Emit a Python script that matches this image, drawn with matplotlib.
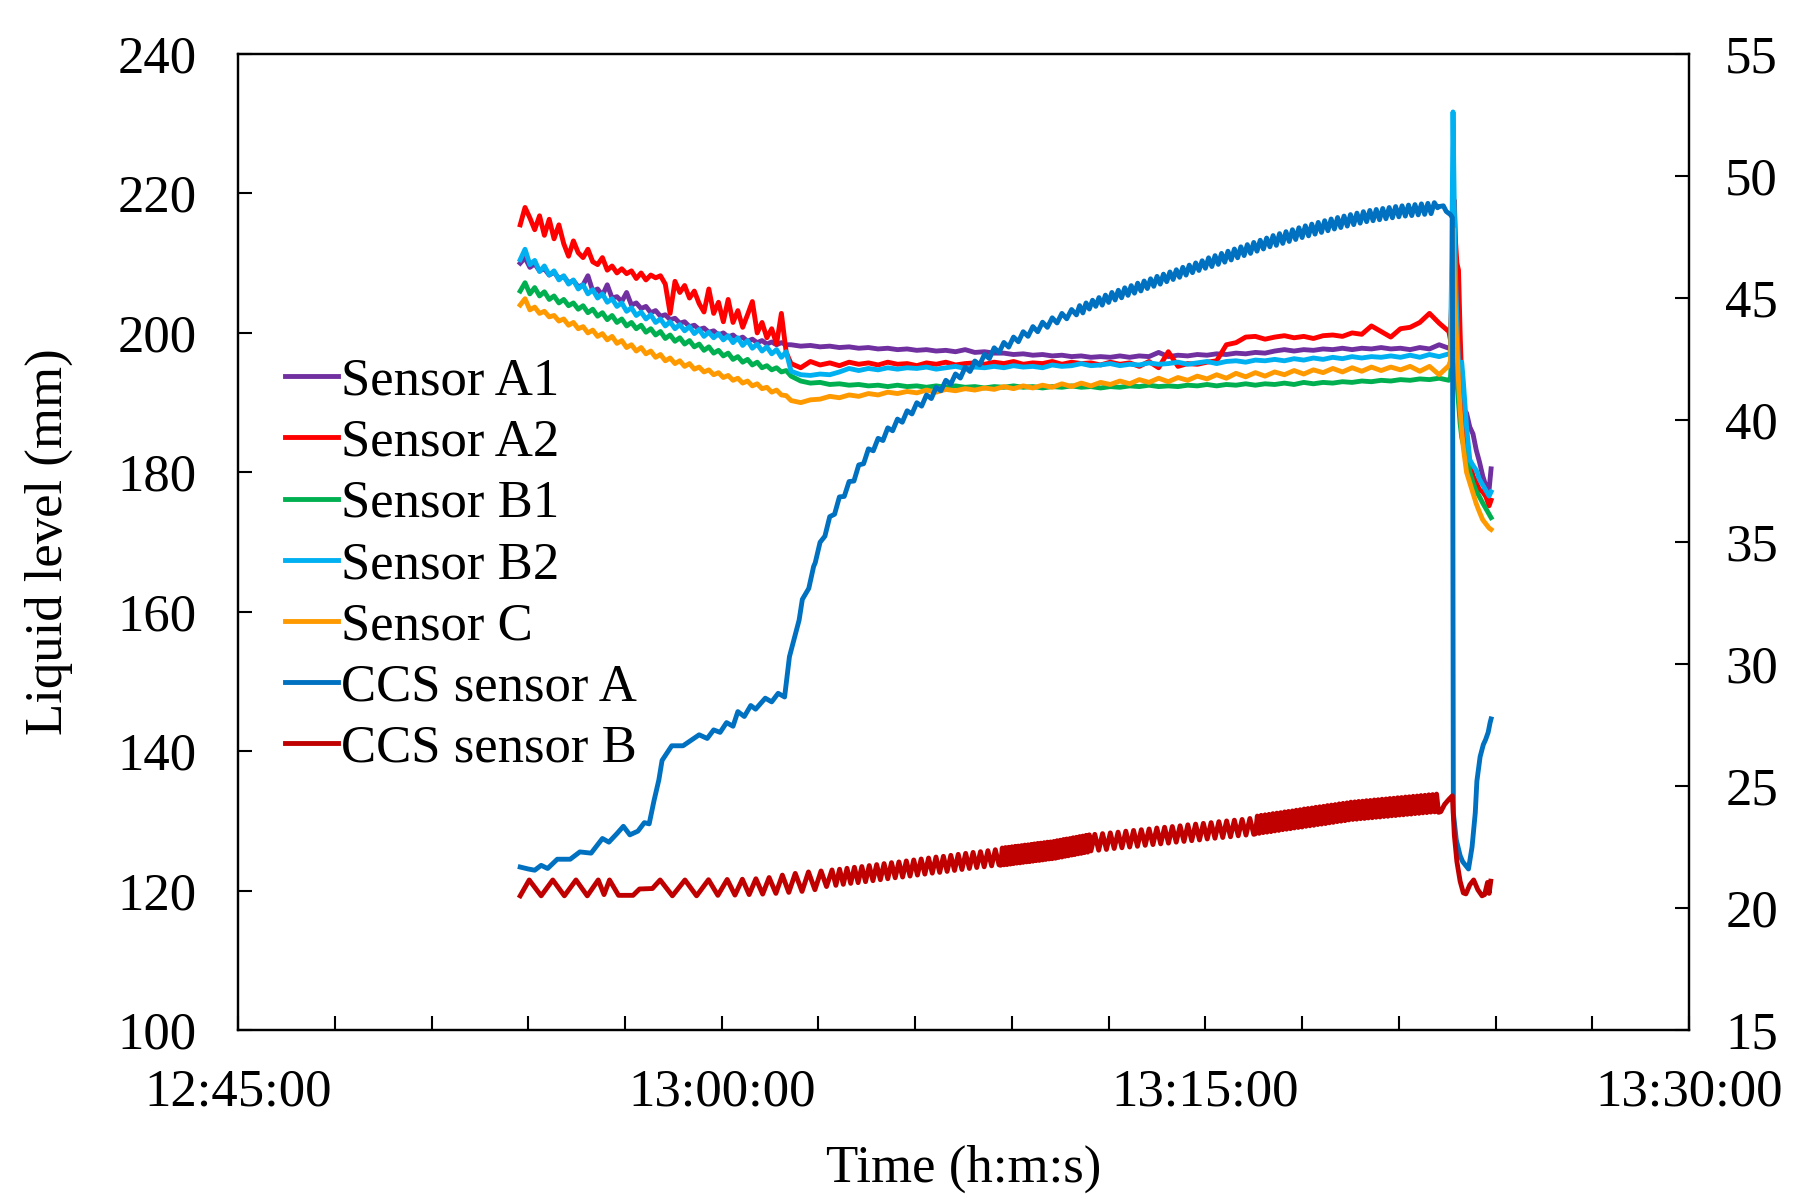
import numpy as np
import matplotlib
matplotlib.use("Agg")
import matplotlib.pyplot as plt
from matplotlib.ticker import MultipleLocator

# ---------------- data (time in minutes after 12:45:00) ----------------
x_tick_pos = [0, 15, 30, 45]
x_tick_labels = ["12:45:00", "13:00:00", "13:15:00", "13:30:00"]
left_ticks = [100, 120, 140, 160, 180, 200, 220, 240]
right_ticks = [15, 20, 25, 30, 35, 40, 45, 50, 55]

series_names = ["Sensor A1", "Sensor A2", "Sensor B1", "Sensor B2", "Sensor C",
                "CCS sensor A", "CCS sensor B"]

# sample-time spans for the liquid level sensors
early_span = (8.75, 17.0)
late_span = (17.15, 37.55)
post_t = [37.6, 37.64, 37.68, 37.72, 37.76, 37.8, 37.85, 37.9, 37.95, 38.0,
          38.1, 38.2, 38.3, 38.4, 38.5, 38.6, 38.7, 38.8, 38.86]

a1_early = [210.0, 210.8, 209.4, 209.9, 208.9, 209.2, 208.3, 208.7, 207.8, 208.1,
            207.2, 207.5, 206.6, 206.9, 208.2, 206.0, 206.3, 205.4, 206.9, 205.0,
            205.2, 204.5, 205.8, 204.0, 204.3, 203.5, 203.8, 202.9, 203.2, 202.4,
            202.6, 201.9, 202.1, 201.4, 201.6, 200.9, 201.1, 200.5, 200.7, 200.1,
            200.3, 199.7, 200.0, 199.4, 199.7, 199.1, 199.4, 198.8, 199.1, 198.6,
            198.9, 198.4, 198.7, 198.3, 198.6, 198.3]
a1_late = [198.3, 198.1, 198.2, 198.0, 198.1, 197.9, 198.0, 197.8, 197.9, 197.7,
           197.8, 197.6, 197.7, 197.5, 197.6, 197.4, 197.5, 197.3, 197.6, 197.2,
           197.3, 197.1, 197.1, 196.9, 197.0, 196.8, 196.9, 196.7, 196.8, 196.6,
           196.7, 196.5, 196.6, 196.5, 196.7, 196.5, 196.7, 196.6, 197.2, 196.6,
           196.8, 196.7, 196.9, 196.8, 197.0, 196.9, 197.1, 197.0, 197.2, 197.1,
           197.4, 197.6, 197.4, 197.6, 197.5, 197.7, 197.6, 197.8, 197.6, 197.8,
           197.7, 197.9, 197.7, 197.8, 197.6, 197.9, 197.7, 198.3, 197.8]
a1_post = [198.0, 203.0, 210.0, 206.0, 200.0, 196.0, 193.0, 191.0, 190.0, 189.0,
           188.5, 186.5, 185.5, 183.2, 181.5, 179.5, 178.0, 177.6, 180.5]

a2_early = [215.5, 218.0, 216.5, 214.8, 216.8, 214.0, 216.3, 213.5, 215.5, 212.8,
            211.0, 213.2, 211.5, 210.8, 212.0, 210.2, 209.8, 210.8, 209.0, 209.6,
            208.6, 209.2, 208.5, 208.9, 207.8, 208.6, 207.6, 208.3, 207.9, 208.2,
            207.0, 202.8, 207.4, 205.8, 206.8, 205.0, 206.0, 204.2, 203.0, 206.3,
            202.8, 204.4, 201.6, 204.8, 201.5, 203.2, 200.8, 202.6, 204.5, 200.0,
            201.5, 199.3, 200.6, 198.4, 202.8, 197.2]
a2_late = [195.6, 195.0, 195.9, 195.4, 195.7, 195.3, 195.8, 195.5, 195.7, 195.4,
           195.8, 195.5, 195.6, 195.3, 195.7, 195.5, 195.8, 195.4, 195.6, 195.7,
           195.5, 195.8, 195.6, 195.9, 195.5, 195.7, 195.6, 195.9, 195.5, 195.8,
           195.6, 195.7, 195.4, 195.8, 195.5, 195.7, 195.2, 195.9, 195.0, 197.3,
           195.2, 195.6, 195.5, 195.8, 196.0, 198.3, 198.6, 199.4, 199.5, 199.1,
           199.4, 199.6, 199.3, 199.5, 199.2, 199.6, 199.7, 199.5, 200.0, 199.8,
           201.0, 200.2, 199.4, 200.6, 200.8, 201.5, 202.8, 201.4, 200.2]
a2_post = [199.0, 205.0, 214.0, 219.0, 213.0, 210.0, 209.0, 200.0, 193.0, 188.0,
           184.0, 181.5, 179.5, 178.5, 177.5, 177.2, 176.5, 175.2, 176.0]

b1_early = [206.0, 207.2, 205.6, 206.5, 205.3, 205.9, 204.8, 205.3, 204.3, 204.8,
            203.9, 204.3, 203.4, 203.9, 202.9, 203.4, 202.4, 202.9, 201.9, 202.5,
            201.5, 202.0, 201.0, 201.5, 200.6, 201.1, 200.1, 200.6, 199.7, 200.2,
            199.2, 199.7, 198.8, 199.3, 198.4, 198.9, 198.0, 198.4, 197.5, 198.0,
            197.1, 197.5, 196.7, 197.1, 196.2, 196.6, 195.8, 196.2, 195.4, 195.8,
            195.0, 195.3, 194.7, 195.0, 194.4, 194.6]
b1_late = [193.8, 193.1, 192.8, 192.9, 192.6, 192.7, 192.5, 192.6, 192.4, 192.5,
           192.3, 192.5, 192.3, 192.4, 192.2, 192.4, 192.2, 192.4, 192.2, 192.3,
           192.1, 192.3, 192.2, 192.4, 192.2, 192.3, 192.1, 192.3, 192.2, 192.4,
           192.2, 192.3, 192.1, 192.3, 192.2, 192.4, 192.3, 192.5, 192.3, 192.4,
           192.3, 192.5, 192.4, 192.6, 192.4, 192.6, 192.5, 192.7, 192.5, 192.7,
           192.6, 192.8, 192.6, 192.9, 192.7, 192.9, 192.8, 193.0, 192.9, 193.1,
           193.0, 193.2, 193.1, 193.3, 193.2, 193.4, 193.3, 193.5, 193.2]
b1_post = [193.5, 197.0, 203.0, 200.0, 196.0, 193.0, 190.0, 187.0, 185.0, 184.0,
           182.5, 180.0, 178.5, 177.3, 176.5, 175.6, 174.8, 174.0, 173.5]

b2_early = [210.5, 212.0, 209.8, 210.4, 208.8, 209.6, 208.3, 208.9, 207.6, 208.2,
            207.0, 207.6, 206.3, 206.9, 205.6, 206.2, 205.0, 205.6, 204.4, 204.9,
            203.8, 204.3, 203.1, 203.6, 202.5, 203.0, 202.0, 202.6, 201.5, 202.0,
            201.0, 201.6, 200.6, 201.2, 200.3, 200.9, 199.9, 200.5, 199.5, 200.1,
            199.3, 199.9, 199.0, 199.6, 198.6, 199.3, 198.2, 198.9, 197.8, 198.4,
            197.4, 198.0, 197.0, 197.6, 196.5, 197.3]
b2_late = [194.5, 194.0, 193.9, 194.1, 194.0, 194.4, 194.9, 194.6, 194.9, 194.7,
           195.0, 194.8, 195.0, 194.9, 195.1, 194.8, 195.0, 195.2, 194.9, 195.1,
           195.0, 195.2, 195.0, 195.3, 195.1, 195.2, 195.0, 195.4, 195.2, 195.3,
           195.6, 195.3, 195.4, 195.6, 195.3, 195.5, 195.4, 195.7, 195.5, 195.6,
           195.8, 195.5, 195.7, 195.9, 195.6, 195.9, 196.0, 195.8, 196.1, 196.0,
           196.2, 196.0, 196.3, 196.1, 196.4, 196.2, 196.5, 196.3, 196.6, 196.4,
           196.6, 196.5, 196.7, 196.5, 196.8, 196.5, 196.9, 196.6, 197.0]
b2_post = [197.0, 210.0, 231.7, 218.0, 208.0, 202.0, 195.6, 195.4, 195.8, 193.0,
           186.5, 181.8, 181.0, 180.3, 179.0, 178.2, 177.4, 176.6, 177.2]

c_early = [204.0, 204.9, 203.3, 203.7, 202.8, 203.1, 202.3, 202.5, 201.7, 202.0,
           201.1, 201.5, 200.6, 200.9, 200.0, 200.4, 199.5, 199.9, 199.0, 199.5,
           198.5, 198.9, 197.9, 198.3, 197.4, 197.9, 197.0, 197.4, 196.5, 196.9,
           196.0, 196.4, 195.6, 196.0, 195.2, 195.6, 194.8, 195.1, 194.4, 194.7,
           194.0, 194.3, 193.6, 193.9, 193.2, 193.5, 192.8, 193.1, 192.4, 192.7,
           192.0, 192.2, 191.5, 191.8, 191.1, 191.0]
c_late = [190.3, 190.0, 190.4, 190.5, 190.9, 190.7, 191.1, 190.9, 191.3, 191.1,
          191.5, 191.3, 191.6, 191.4, 191.8, 191.5, 191.9, 191.7, 192.0, 191.8,
          192.1, 191.9, 192.3, 192.0, 192.4, 192.1, 192.5, 192.2, 192.7, 192.3,
          192.8, 192.4, 192.9, 192.6, 193.1, 192.7, 193.3, 192.9, 193.5, 193.0,
          193.6, 193.2, 193.8, 193.4, 194.0, 193.5, 194.2, 193.7, 194.3, 193.8,
          194.4, 194.0, 194.6, 194.1, 194.7, 194.3, 194.9, 194.4, 195.0, 194.5,
          195.1, 194.6, 195.1, 194.7, 195.2, 194.5, 195.2, 194.0, 195.3]
c_post = [196.0, 205.0, 215.0, 208.0, 202.0, 198.0, 193.0, 189.0, 186.0, 183.5,
          180.0, 178.5, 177.0, 175.5, 174.3, 173.2, 172.6, 172.0, 171.8]

# CCS sensor A (right axis)
ccsA_early_t = [8.75, 9.0, 9.2, 9.4, 9.6, 9.9, 10.3, 10.6, 10.95, 11.3, 11.5, 11.75,
                11.95, 12.15, 12.4, 12.6, 12.75, 12.9, 13.05, 13.15, 13.45, 13.8, 14.3,
                14.55, 14.75, 14.95, 15.15, 15.35, 15.5, 15.7, 15.9, 16.05, 16.35,
                16.55, 16.75, 16.95, 17.1, 17.2, 17.4, 17.5, 17.7, 17.85]
ccsA_early_v = [21.68, 21.6, 21.55, 21.75, 21.62, 22.0, 22.0, 22.3, 22.25, 22.85, 22.7,
                23.05, 23.35, 23.0, 23.15, 23.5, 23.45, 24.4, 25.25, 26.05, 26.65, 26.65,
                27.1, 26.95, 27.3, 27.2, 27.6, 27.45, 28.05, 27.85, 28.3, 28.15, 28.6,
                28.45, 28.8, 28.65, 30.3, 30.8, 31.8, 32.65, 33.1, 34.0]
ccsA_rip1_span = (17.9, 26.0)
ccsA_rip1 = [34.15, 34.99, 35.24, 36.04, 36.14, 36.85, 36.87, 37.48, 37.5, 38.16,
             38.21, 38.82, 38.74, 39.25, 39.16, 39.68, 39.56, 40.04, 39.91, 40.38,
             40.25, 40.71, 40.57, 41.03, 40.88, 41.34, 41.2, 41.63, 41.46, 41.89,
             41.72, 42.16, 41.99, 42.42, 42.26, 42.69, 42.52, 42.96, 42.77, 43.18,
             42.99, 43.4, 43.21, 43.62, 43.43, 43.83, 43.62, 44.01, 43.8, 44.19,
             43.98, 44.37, 44.15, 44.53, 44.31]
ccsA_rip2_span = (26.1, 37.2)
ccsA_rip2 = [44.69, 44.39, 44.80, 44.55, 44.91, 44.66, 45.02, 44.71, 45.12, 44.82,
             45.23, 44.92, 45.32, 45.01, 45.42, 45.11, 45.51, 45.2, 45.61, 45.29,
             45.7, 45.39, 45.79, 45.48, 45.89, 45.57, 45.98, 45.67, 46.07, 45.76,
             46.16, 45.85, 46.26, 45.94, 46.35, 46.04, 46.44, 46.13, 46.53, 46.22,
             46.65, 46.29, 46.74, 46.38, 46.83, 46.47, 46.92, 46.56, 47.01, 46.65,
             47.1, 46.74, 47.19, 46.83, 47.28, 46.92, 47.37, 47.01, 47.46, 47.1,
             47.56, 47.16, 47.64, 47.24, 47.72, 47.32, 47.8, 47.4, 47.88, 47.48,
             47.96, 47.55, 48.03, 47.62, 48.1, 47.69, 48.17, 47.76, 48.24, 47.83,
             48.3, 47.89, 48.36, 47.95, 48.42, 48.01, 48.48, 48.07, 48.54, 48.13,
             48.59, 48.17, 48.63, 48.21, 48.67, 48.25, 48.71, 48.29, 48.75, 48.33,
             48.78, 48.36, 48.81, 48.38, 48.83, 48.41, 48.86, 48.43, 48.88, 48.46,
             48.91, 48.7]
ccsA_tail_t = [37.25, 37.38, 37.47, 37.6, 37.66, 37.69, 37.78, 37.9, 37.98, 38.16,
               38.27, 38.37, 38.42, 38.52, 38.62, 38.69, 38.77, 38.83, 38.86]
ccsA_tail_v = [48.75, 48.78, 48.55, 48.42, 48.3, 23.9, 22.8, 22.15, 21.9, 21.6,
               22.5, 23.9, 25.2, 26.2, 26.7, 26.9, 27.2, 27.6, 27.75]

# CCS sensor B (right axis)
ccsB_early_t = [8.75, 9.03, 9.40, 9.76, 10.12, 10.48, 10.83, 11.17, 11.35, 11.52,
                11.80, 12.25, 12.45, 12.85, 13.09, 13.47, 13.86, 14.22, 14.59, 14.88,
                15.17, 15.41, 15.64, 15.85, 16.06, 16.27, 16.47, 16.68, 16.88, 17.08,
                17.28, 17.49, 17.69, 17.89, 18.08, 18.25, 18.42]
ccsB_early_v = [20.50, 21.15, 20.50, 21.15, 20.50, 21.15, 20.50, 21.15, 20.55, 21.15,
                20.52, 20.52, 20.78, 20.80, 21.15, 20.50, 21.15, 20.50, 21.16, 20.52,
                21.17, 20.53, 21.18, 20.55, 21.20, 20.57, 21.25, 20.60, 21.35, 20.64,
                21.42, 20.68, 21.48, 20.75, 21.52, 20.88, 21.56]
ccsB_s2_span = (18.54, 23.6)
ccsB_s2 = [20.93, 21.59, 20.97, 21.63, 21.01, 21.67, 21.04, 21.70, 21.08, 21.74,
           21.12, 21.78, 21.16, 21.82, 21.20, 21.86, 21.24, 21.89, 21.27, 21.93,
           21.31, 21.97, 21.35, 22.01, 21.39, 22.05, 21.43, 22.09, 21.46, 22.12,
           21.50, 22.16, 21.54, 22.20, 21.58, 22.24, 21.62, 22.28, 21.66, 22.31,
           21.69, 22.35, 21.73, 22.39, 21.77]
ccsB_s3_span = (23.65, 26.4)
ccsB_s3 = [21.75, 22.46, 21.77, 22.48, 21.78, 22.49, 21.80, 22.51, 21.82, 22.53,
           21.84, 22.54, 21.85, 22.56, 21.87, 22.58, 21.89, 22.59, 21.90, 22.61,
           21.92, 22.63, 21.94, 22.65, 21.95, 22.66, 21.97, 22.68, 21.99, 22.70,
           22.01, 22.71, 22.02, 22.73, 22.04, 22.76, 22.07, 22.78, 22.09, 22.81,
           22.12, 22.83, 22.14, 22.85, 22.17, 22.88, 22.19, 22.90, 22.22, 22.93,
           22.24, 22.95, 22.27, 22.98, 22.29, 23.00]
ccsB_s4_span = (26.45, 31.5)
ccsB_s4 = [22.34, 23.02, 22.37, 23.05, 22.40, 23.08, 22.44, 23.11, 22.47, 23.15,
           22.50, 23.18, 22.53, 23.21, 22.57, 23.24, 22.60, 23.28, 22.63, 23.31,
           22.66, 23.34, 22.70, 23.37, 22.73, 23.41, 22.76, 23.44, 22.79, 23.47,
           22.83, 23.50, 22.86, 23.54, 22.89, 23.57, 22.92, 23.60, 22.96, 23.63,
           22.99, 23.67, 23.02]
ccsB_s5_span = (31.55, 37.17)
ccsB_s5 = [23.04, 23.77, 23.06, 23.80, 23.09, 23.82, 23.11, 23.84, 23.13, 23.87,
           23.16, 23.89, 23.18, 23.91, 23.21, 23.94, 23.23, 23.96, 23.25, 23.98,
           23.28, 24.01, 23.30, 24.03, 23.32, 24.06, 23.35, 24.08, 23.37, 24.10,
           23.39, 24.13, 23.42, 24.15, 23.44, 24.17, 23.46, 24.20, 23.49, 24.22,
           23.51, 24.24, 23.54, 24.27, 23.56, 24.29, 23.58, 24.31, 23.61, 24.34,
           23.63, 24.35, 23.64, 24.37, 23.66, 24.38, 23.67, 24.40, 23.69, 24.41,
           23.70, 24.43, 23.72, 24.44, 23.73, 24.46, 23.75, 24.47, 23.76, 24.49,
           23.78, 24.50, 23.79, 24.52, 23.81, 24.53, 23.82, 24.55, 23.84, 24.56,
           23.85, 24.58, 23.87, 24.59, 23.88, 24.61, 23.90, 24.62, 23.91, 24.64,
           23.93, 24.65, 23.94, 24.67]
ccsB_tail_t = [37.23, 37.3, 37.42, 37.55, 37.66, 37.72, 37.8, 37.9, 38.0, 38.08,
               38.2, 38.32, 38.45, 38.58, 38.66, 38.75, 38.8, 38.85]
ccsB_tail_v = [23.92, 23.95, 24.25, 24.45, 24.6, 23.0, 21.9, 21.1, 20.62, 20.58,
               20.95, 21.15, 20.75, 20.5, 20.55, 21.05, 20.6, 21.1]

colors = ["#7030A0", "#FF0000", "#00B050", "#00B0F0", "#FF9900", "#0070C0", "#C00000"]

# ---------------- figure ----------------
plt.rcParams['font.family'] = ['Liberation Serif', 'DejaVu Serif']
FS = 38
LW = 3.5

fig = plt.figure(figsize=(17.94, 12.04), dpi=100)
ax = fig.add_axes([0.1327, 0.1445, 0.8088, 0.8106])
ax2 = ax.twinx()


def sensor_xy(early, late, post):
    t = np.concatenate([np.linspace(early_span[0], early_span[1], len(early)),
                        np.linspace(late_span[0], late_span[1], len(late)),
                        np.asarray(post_t[:len(post)])])
    v = np.concatenate([early, late, post])
    return t, v


handles = []
for (e, l, p), name, col in zip([(a1_early, a1_late, a1_post),
                                  (a2_early, a2_late, a2_post),
                                  (b1_early, b1_late, b1_post),
                                  (b2_early, b2_late, b2_post),
                                  (c_early, c_late, c_post)],
                                 series_names[:5], colors[:5]):
    t, v = sensor_xy(e, l, p)
    h, = ax.plot(t, v, color=col, lw=LW, label=name, solid_joinstyle='round')
    handles.append(h)

tA = np.concatenate([ccsA_early_t,
                     np.linspace(*ccsA_rip1_span, len(ccsA_rip1)),
                     np.linspace(*ccsA_rip2_span, len(ccsA_rip2)),
                     ccsA_tail_t])
vA = np.concatenate([ccsA_early_v, ccsA_rip1, ccsA_rip2, ccsA_tail_v])
h, = ax2.plot(tA, vA, color=colors[5], lw=LW, label=series_names[5],
              solid_joinstyle='round')
handles.append(h)

tB = np.concatenate([ccsB_early_t,
                     np.linspace(*ccsB_s2_span, len(ccsB_s2)),
                     np.linspace(*ccsB_s3_span, len(ccsB_s3)),
                     np.linspace(*ccsB_s4_span, len(ccsB_s4)),
                     np.linspace(*ccsB_s5_span, len(ccsB_s5)),
                     ccsB_tail_t])
vB = np.concatenate([ccsB_early_v, ccsB_s2, ccsB_s3, ccsB_s4, ccsB_s5, ccsB_tail_v])
h, = ax2.plot(tB, vB, color=colors[6], lw=LW, label=series_names[6],
              solid_joinstyle='round')
handles.append(h)

# axes limits and ticks
ax.set_xlim(x_tick_pos[0], x_tick_pos[-1])
ax.set_ylim(left_ticks[0], left_ticks[-1])
ax2.set_ylim(right_ticks[0], right_ticks[-1])
ax.set_xticks(x_tick_pos)
ax.set_xticklabels(x_tick_labels)
ax.xaxis.set_minor_locator(MultipleLocator(3))
ax.set_yticks(left_ticks)
ax2.set_yticks(right_ticks)

ax.tick_params(axis='x', which='both', direction='in', length=10, width=1.5,
               labelsize=FS, pad=28, top=False)
ax.tick_params(axis='y', which='both', direction='in', length=10, width=1.5,
               labelsize=FS, pad=30, right=False)
ax2.tick_params(axis='y', which='both', direction='in', length=10, width=1.5,
                labelsize=FS, pad=26)
for a in (ax, ax2):
    for s in a.spines.values():
        s.set_linewidth(1.6)

ax.set_xlabel("Time (h:m:s)", fontsize=FS, labelpad=20)
ax.set_ylabel("Liquid level (mm)", fontsize=FS, labelpad=32)

leg = ax2.legend(handles=handles, loc='upper left', bbox_to_anchor=(0.159, 0.703),
                 bbox_transform=fig.transFigure, frameon=False, fontsize=FS,
                 handlelength=1.0, handletextpad=0.06, labelspacing=0.25,
                 borderpad=0.0, borderaxespad=0.0)

fig.savefig("out.png", dpi=100)
